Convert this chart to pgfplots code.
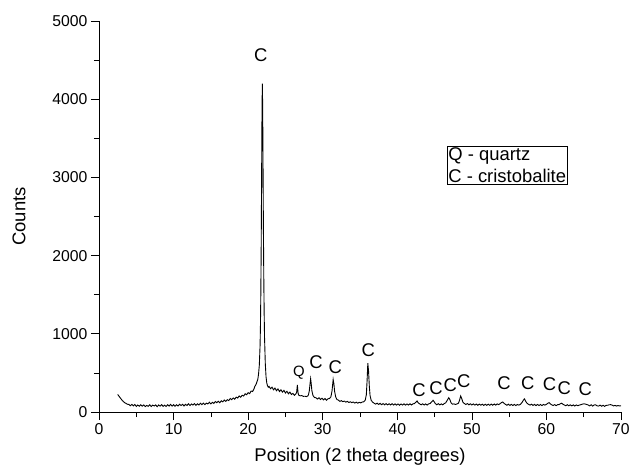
\documentclass[border=0pt]{standalone}
\usepackage{fontspec}
\setmainfont{Liberation Sans}
\usepackage{pgfplots}
\pgfplotsset{compat=1.18}
\usetikzlibrary{calc}
\begin{document}
\begin{tikzpicture}
\begin{axis}[
 scale only axis, width=522bp, height=391bp,
 xmin=0, xmax=70, ymin=0, ymax=5000,
 axis lines*=left,
 axis line style={line width=0.7pt},
 tick align=outside,
 xtick={0,10,...,70}, minor xtick={5,15,...,65},
 ytick={0,1000,...,5000}, minor ytick={500,1500,...,4500},
 major tick length=8bp, minor tick length=5bp,
 every tick/.style={black, line width=0.7pt},
 /pgf/number format/assume math mode=true,
 /pgf/number format/1000 sep={},
 ticklabel style={font=\fontsize{15.8}{18}\selectfont},
 label style={font=\fontsize{18.5}{22}\selectfont},
 xlabel={Position (2 theta degrees)},
 ylabel={Counts},
 ylabel shift=20bp,
 xlabel shift=7bp,
 clip=false,
]
\addplot[black, line width=0.9pt] table {
2.5 225
2.6 212
2.7 200
2.8 186
2.9 175
3.0 162
3.1 150
3.2 141
3.3 130
3.4 124
3.5 115
3.6 112
3.7 104
3.8 101
3.9 96
4.0 98
4.2 80
4.4 97
4.6 78
4.8 96
5.0 72
5.2 90
5.4 73
5.6 94
5.8 75
6.0 91
6.2 69
6.4 84
6.6 73
6.8 93
7.0 70
7.2 88
7.4 77
7.6 91
7.8 68
8.0 90
8.2 75
8.4 93
8.6 73
8.8 87
9.0 71
9.2 93
9.4 76
9.6 97
9.8 76
10.0 94
10.2 73
10.4 92
10.6 77
10.8 99
11.0 83
11.2 98
11.4 78
11.6 98
11.8 84
12.0 105
12.2 83
12.4 103
12.6 89
12.8 107
13.0 85
13.2 105
13.4 90
13.6 112
13.8 94
14.0 114
14.2 95
14.4 114
14.6 103
14.8 125
15.0 104
15.2 124
15.4 110
15.6 134
15.8 119
16.0 138
16.2 119
16.4 143
16.6 130
16.8 153
17.0 136
17.2 157
17.4 146
17.6 172
17.8 158
18.0 180
18.2 164
18.4 190
18.6 179
18.8 205
19.0 189
19.2 214
19.4 204
19.6 233
19.8 221
20.0 247
20.2 235
20.4 268
20.6 262
20.8 300
20.9 328
21.0 342
21.1 363
21.2 392
21.3 418
21.4 490
21.5 600
21.6 850
21.65 1100
21.7 1500
21.75 2100
21.8 2900
21.85 3700
21.9 4200
21.95 3900
22.0 3100
22.05 2300
22.1 1700
22.15 1250
22.2 950
22.3 620
22.4 450
22.5 370
22.6 335
22.7 318
22.8 327
23.0 298
23.2 318
23.4 284
23.6 306
23.8 272
24.0 295
24.2 262
24.4 284
24.6 254
24.8 276
25.0 243
25.2 265
25.4 233
25.6 254
25.8 224
26.0 238
26.2 214
26.4 232
26.5 250
26.6 345
26.7 240
26.8 213
27.0 207
27.2 210
27.4 200
27.6 202
27.8 197
28.0 205
28.1 225
28.2 270
28.3 360
28.38 425
28.45 370
28.55 270
28.7 210
28.9 185
29.1 182
29.3 165
29.5 183
29.7 160
29.9 176
30.1 155
30.3 173
30.5 151
30.7 169
30.9 172
31.1 195
31.25 270
31.4 415
31.5 360
31.6 260
31.75 190
31.9 160
32.1 152
32.3 136
32.5 145
32.7 132
32.9 140
33.1 126
33.3 136
33.5 122
33.7 131
33.9 119
34.1 128
34.3 115
34.5 125
34.7 113
34.9 124
35.1 116
35.3 128
35.5 130
35.7 150
35.85 220
35.95 400
36.05 625
36.15 520
36.25 330
36.35 210
36.5 150
36.7 125
36.9 112
37.1 100
37.3 114
37.5 96
37.7 111
37.9 93
38.1 108
38.3 92
38.5 107
38.7 91
38.9 105
39.1 90
39.3 106
39.5 89
39.7 104
39.9 88
40.1 103
40.3 87
40.5 102
40.7 89
40.9 104
41.1 88
41.3 103
41.5 89
41.7 105
41.9 90
42.1 104
42.3 108
42.5 125
42.65 142
42.8 118
43.0 104
43.2 92
43.4 105
43.6 90
43.8 103
44.0 89
44.2 104
44.4 108
44.6 128
44.8 150
44.95 130
45.1 108
45.3 93
45.5 106
45.7 91
45.9 104
46.1 92
46.3 108
46.5 118
46.7 150
46.9 182
47.05 160
47.2 120
47.4 100
47.6 104
47.8 96
48.0 103
48.2 112
48.35 150
48.5 205
48.65 170
48.8 125
49.0 108
49.2 96
49.4 108
49.6 92
49.8 105
50.0 90
50.2 103
50.4 88
50.6 102
50.8 86
51.0 101
51.2 87
51.4 100
51.6 84
51.8 99
52.0 85
52.2 100
52.4 86
52.6 101
52.8 87
53.0 102
53.2 88
53.4 104
53.6 94
53.8 108
54.0 122
54.15 128
54.3 112
54.5 98
54.7 86
54.9 100
55.1 84
55.3 98
55.5 83
55.7 97
55.9 82
56.1 96
56.3 88
56.5 98
56.7 118
56.9 150
57.05 168
57.2 140
57.4 112
57.6 98
57.8 88
58.0 100
58.2 84
58.4 98
58.6 82
58.8 97
59.0 83
59.2 96
59.4 82
59.6 97
59.8 88
60.0 98
60.2 112
60.35 120
60.5 105
60.7 92
60.9 83
61.1 95
61.3 81
61.5 94
61.7 95
61.9 108
62.05 113
62.2 100
62.4 90
62.6 80
62.8 93
63.0 79
63.2 92
63.4 78
63.6 91
63.8 77
64.0 90
64.2 80
64.4 88
64.6 93
64.8 100
65.0 104
65.2 102
65.4 96
65.6 90
65.8 78
66.0 92
66.2 76
66.4 90
66.6 92
66.8 78
67.0 76
67.2 88
67.4 74
67.6 86
67.8 72
68.0 85
68.2 86
68.4 92
68.6 94
68.8 88
69.0 78
69.2 84
69.4 76
69.6 83
69.8 77
70.0 80
};
\node[font=\fontsize{18.5}{22}\selectfont] at (axis cs:21.7,4565) {C};
\node[font=\fontsize{15}{18}\selectfont] at (axis cs:26.8,500) {Q};
\node[font=\fontsize{18.5}{22}\selectfont] at (axis cs:29.1,640) {C};
\node[font=\fontsize{18.5}{22}\selectfont] at (axis cs:31.7,575) {C};
\node[font=\fontsize{18.5}{22}\selectfont] at (axis cs:36.1,790) {C};
\node[font=\fontsize{18.5}{22}\selectfont] at (axis cs:42.9,280) {C};
\node[font=\fontsize{18.5}{22}\selectfont] at (axis cs:45.2,305) {C};
\node[font=\fontsize{18.5}{22}\selectfont] at (axis cs:47.1,345) {C};
\node[font=\fontsize{18.5}{22}\selectfont] at (axis cs:48.9,395) {C};
\node[font=\fontsize{18.5}{22}\selectfont] at (axis cs:54.3,370) {C};
\node[font=\fontsize{18.5}{22}\selectfont] at (axis cs:57.5,370) {C};
\node[font=\fontsize{18.5}{22}\selectfont] at (axis cs:60.4,360) {C};
\node[font=\fontsize{18.5}{22}\selectfont] at (axis cs:62.4,305) {C};
\node[font=\fontsize{18.5}{22}\selectfont] at (axis cs:65.2,295) {C};
\node[draw, line width=0.7pt, anchor=north west, align=left, inner sep=1.5bp,
      font=\fontsize{18.5}{22}\selectfont, minimum width=119bp]
  at (axis cs:46.6,3402) {Q - quartz\\C - cristobalite};
\end{axis}
\pgfresetboundingbox
\path[use as bounding box] ($(current axis.south west)+(-99bp,-58bp)$) rectangle ($(current axis.north east)+(10bp,21bp)$);
\end{tikzpicture}
\end{document}
